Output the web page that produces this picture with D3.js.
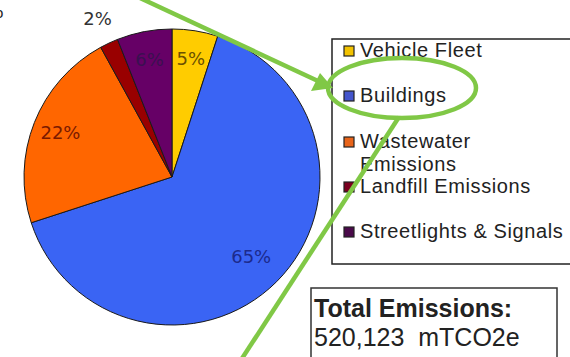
<!DOCTYPE html>
<html>
<head>
<meta charset="utf-8">
<script src="https://cdn.jsdelivr.net/npm/d3@7"></script>
<style>
  html, body { margin: 0; padding: 0; background: #fff; }
  svg { display: block; }
</style>
</head>
<body>
<svg id="chart" width="570" height="357"></svg>
<script>
// Emission sources and their share of the total (percent)
const categories = ["Vehicle Fleet", "Buildings", "Wastewater Emissions", "Landfill Emissions", "Streetlights & Signals"];
const legendLines = [["Vehicle Fleet"], ["Buildings"], ["Wastewater", "Emissions"], ["Landfill Emissions"], ["Streetlights & Signals"]];
const shares = [5, 65, 22, 2, 6];
const totalLines = ["Total Emissions:", "520,123  mTCO2e"];

const sliceColors = ["#ffcc00", "#3a64f4", "#ff6600", "#990000", "#660066"];
const swatchColors = ["#f2c200", "#4455cc", "#e8641a", "#7a0020", "#4a0a4a"];
const labelColors = ["#6b5000", "#1c2a8c", "#7a1a00", "#333333", "#3a1050"];

const svg = d3.select("#chart");

// Pie
const cx = 172, cy = 177, R = 148;
const pie = d3.pie().sort(null).value(d => d)(shares);
const arc = d3.arc().innerRadius(0).outerRadius(R);

const g = svg.append("g").attr("transform", `translate(${cx},${cy})`);
g.selectAll("path.slice")
  .data(pie)
  .join("path")
  .attr("class", "slice")
  .attr("d", arc)
  .attr("fill", (d, i) => sliceColors[i])
  .attr("stroke", "#1a1a1a")
  .attr("stroke-width", 1);

// Percentage labels: inside for large slices, outside for the thin landfill slice
const labelRadius = (d, i) => (d.data < 4 ? 175 : (d.data > 30 ? 112 : 120));
g.selectAll("text.pct")
  .data(pie)
  .join("text")
  .attr("class", "pct")
  .attr("transform", (d, i) => {
    const r = labelRadius(d, i);
    const c = d3.arc().innerRadius(r).outerRadius(r).centroid(d);
    return `translate(${c[0]},${c[1]})`;
  })
  .attr("text-anchor", "middle")
  .attr("dy", "0.36em")
  .attr("font-family", "DejaVu Sans, sans-serif")
  .attr("font-size", 18)
  .attr("fill", (d, i) => labelColors[i])
  .text(d => d.data + "%");

// Legend
const legend = svg.append("g");
legend.append("rect")
  .attr("x", 332).attr("y", 39)
  .attr("width", 250).attr("height", 225)
  .attr("fill", "#fff")
  .attr("stroke", "#222")
  .attr("stroke-width", 1.5);

const legendY = d3.scalePoint().domain(categories).range([57, 238]);
const itemY = [57, 102, 148, 193, 238];
const items = legend.selectAll("g.item")
  .data(categories)
  .join("g")
  .attr("class", "item")
  .attr("transform", (d, i) => `translate(0,${itemY[i]})`);

items.append("rect")
  .attr("x", 344).attr("y", -11)
  .attr("width", 10).attr("height", 10)
  .attr("fill", (d, i) => swatchColors[i])
  .attr("stroke", "#222")
  .attr("stroke-width", 1.2);

items.append("text")
  .attr("x", 360)
  .attr("font-family", "Liberation Sans, Arial, sans-serif")
  .attr("font-size", 20)
  .attr("letter-spacing", 0.6)
  .attr("fill", "#222")
  .selectAll("tspan")
  .data((d, i) => legendLines[i])
  .join("tspan")
  .attr("x", 360)
  .attr("dy", (d, j) => j === 0 ? 0 : 23)
  .text(d => d);

// Total box
const total = svg.append("g");
total.append("rect")
  .attr("x", 311).attr("y", 288)
  .attr("width", 246).attr("height", 80)
  .attr("fill", "#fff")
  .attr("stroke", "#333")
  .attr("stroke-width", 1.5);
total.append("text")
  .attr("x", 314).attr("y", 317)
  .attr("font-family", "Liberation Sans, Arial, sans-serif")
  .attr("font-size", 25).attr("font-weight", "bold")
  .attr("fill", "#222")
  .text(totalLines[0]);
total.append("text")
  .attr("x", 314).attr("y", 346)
  .attr("font-family", "Liberation Sans, Arial, sans-serif")
  .attr("font-size", 25)
  .attr("fill", "#222")
  .style("white-space", "pre")
  .text(totalLines[1]);

// Clipped character at the top-left edge
svg.append("text")
  .attr("x", -5).attr("y", 18)
  .attr("font-family", "Liberation Sans, Arial, sans-serif")
  .attr("font-size", 15)
  .attr("fill", "#222")
  .text("o");

// Green callout: arrow, ellipse round "Buildings", and leader line
const green = "#80c846";
const callout = svg.append("g").attr("fill", "none").attr("stroke", green).attr("stroke-width", 4.5);
callout.append("line").attr("x1", 140).attr("y1", -2).attr("x2", 318).attr("y2", 81);
svg.append("path")
  .attr("d", "M333,88 L311,91 L320,73 Z")
  .attr("fill", green);
callout.append("ellipse").attr("cx", 402).attr("cy", 88).attr("rx", 74).attr("ry", 30);
callout.append("line").attr("x1", 399).attr("y1", 117).attr("x2", 241).attr("y2", 360);
</script>
</body>
</html>
